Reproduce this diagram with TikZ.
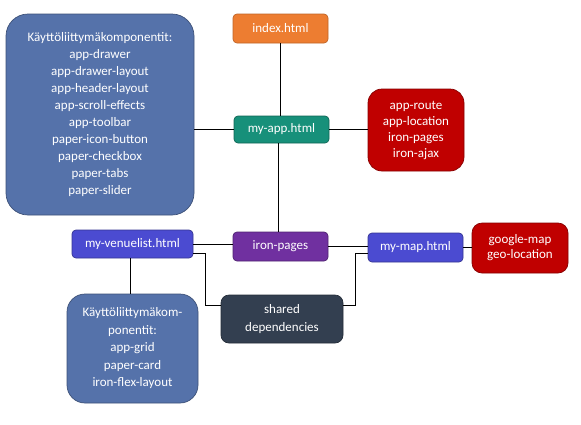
\documentclass[tikz,border=0pt]{standalone}
\usepackage{fontspec}
\setmainfont{Carlito}
\definecolor{compblue}{HTML}{5572AA}
\definecolor{idxorange}{HTML}{ED7D31}
\definecolor{appteal}{HTML}{17907A}
\definecolor{libred}{HTML}{C00000}
\definecolor{pagepurple}{HTML}{7030A0}
\definecolor{viewblue}{HTML}{4B4BD1}
\definecolor{shareddark}{HTML}{333F50}
\begin{document}
\begin{tikzpicture}[x=1pt,y=-1pt,line width=1pt,
    box/.style={rectangle,rounded corners=4pt,text=white,align=center,inner sep=0,
        font=\fontsize{13}{17}\selectfont,line width=.7pt},
    ]
        \useasboundingbox(0,0)rectangle(581,424);
        \node[box,fill=compblue,draw=compblue!70!black,rounded corners=22pt,minimum width=188pt,minimum height=201pt](comp)at(100,114.5){K\"aytt\"oliittym\"akomponentit:\\app-drawer\\app-drawer-layout\\app-header-layout\\app-scroll-effects\\app-toolbar\\paper-icon-button\\paper-checkbox\\paper-tabs\\paper-slider};
        \node[box,fill=idxorange,draw=idxorange!80!black,minimum width=95pt,minimum height=29pt](index)at(280.5,28.5){index.html};
        \node[box,fill=appteal,draw=appteal!70!black,minimum width=95pt,minimum height=27pt](myapp)at(281.5,129.5){my-app.html};
        \node[box,fill=libred,draw=libred!70!black,rounded corners=14pt,minimum width=96pt,minimum height=82pt,font=\fontsize{13}{16}\selectfont](approute)at(416,130){app-route\\app-location\\iron-pages\\iron-ajax};
        \node[box,fill=pagepurple,draw=pagepurple!70!black,minimum width=95pt,minimum height=29pt](ironpages)at(280.5,246.5){iron-pages};
        \node[box,fill=viewblue,draw=viewblue!70!black,minimum width=95pt,minimum height=29pt](mymap)at(415.5,247.5){my-map.html};
        \node[box,fill=libred,draw=libred!70!black,rounded corners=10pt,minimum width=96pt,minimum height=50pt,font=\fontsize{13}{15}\selectfont](gmap)at(520,248){google-map\\geo-location};
        \node[box,fill=shareddark,draw=shareddark!70!black,rounded corners=8pt,minimum width=122pt,minimum height=48pt,font=\fontsize{13}{18}\selectfont](shared)at(282,319){shared\\dependencies};
        \node[box,fill=viewblue,draw=viewblue!70!black,minimum width=121pt,minimum height=28pt](venuelist)at(132.5,244){my-venuelist.html};
        \node[box,fill=compblue,draw=compblue!70!black,rounded corners=18pt,minimum width=131pt,minimum height=109pt,font=\fontsize{13}{17.5}\selectfont](comp2)at(132.5,348.5){K\"aytt\"oliittym\"akom-\\ponentit:\\app-grid\\paper-card\\iron-flex-layout};
        \draw(index.south)--(index.south|-myapp.north);
        \draw(comp.east|-myapp)--(myapp.west);
        \draw(myapp.east)--(approute.west|-myapp);
        \draw([xshift=-2pt]ironpages.north|-myapp.south)--([xshift=-2pt]ironpages.north);
        \draw(venuelist.east)--(ironpages.west|-venuelist.east);
        \draw([yshift=-9pt]venuelist.east)-|([xshift=-15pt,yshift=14pt]shared.west)--([yshift=14pt]shared.west);
        \draw(ironpages.east)--(mymap.west|-ironpages.east);
        \draw([yshift=-6pt]mymap.west)-|([xshift=12pt,yshift=14pt]shared.east)--([yshift=14pt]shared.east);
        \draw(mymap.east)--(gmap.west|-mymap.east);
        \draw([xshift=-2.5pt]venuelist.south)--([xshift=-2.5pt]venuelist.south|-comp2.north);
    \end{tikzpicture}
\end{document}
